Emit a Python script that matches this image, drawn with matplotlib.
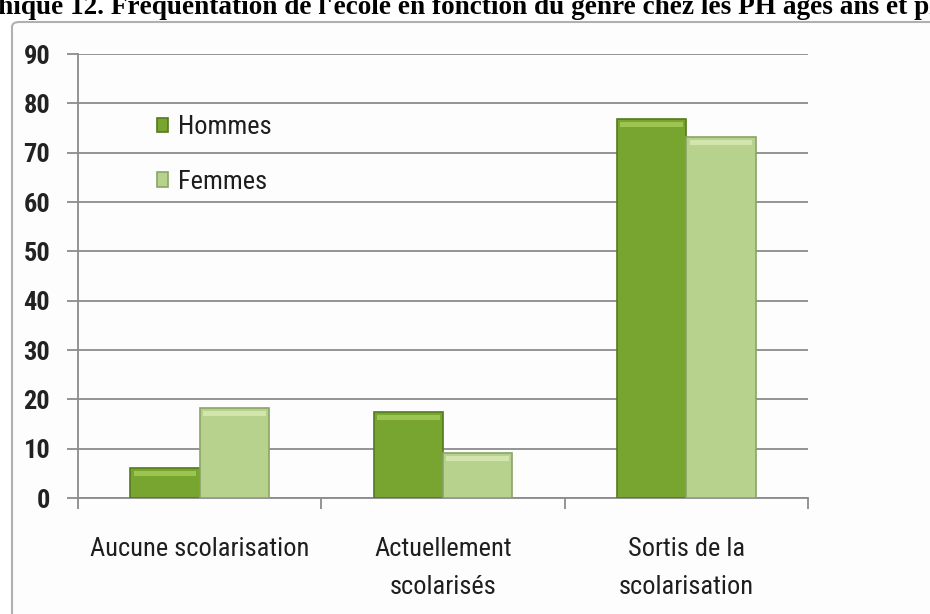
import numpy as np
import matplotlib.pyplot as plt
from matplotlib.patches import FancyBboxPatch

categories = ['Aucune scolarisation', 'Actuellement\nscolarisés', 'Sortis de la\nscolarisation']
hommes = [6.1, 17.4, 76.9]
femmes = [18.3, 9.1, 73.2]
series_names = ['Hommes', 'Femmes']
yticks = [0, 10, 20, 30, 40, 50, 60, 70, 80, 90]
title = "Graphique 12. Fréquentation de l'école en fonction du genre chez les PH âgés ans et plus"

narrow = ['Roboto Condensed', 'Liberation Sans Narrow', 'DejaVu Sans']
plt.rcParams['font.family'] = narrow
plt.rcParams['font.stretch'] = 'condensed'

fig = plt.figure(figsize=(9.3, 6.14), dpi=100)
fig.patch.set_facecolor('white')

# cadre gris du graphique (coupé à droite et en bas)
frame = FancyBboxPatch((12 / 930, -0.1), 1.2, 1.1 - 22 / 614,
                       boxstyle='round,pad=0,rounding_size=0.008',
                       transform=fig.transFigure, facecolor='#fdfdfd',
                       edgecolor='#b0b0b0', linewidth=1.5, zorder=-5)
fig.add_artist(frame)

fig.text(-0.069, 0.977, title, family=['Liberation Serif', 'DejaVu Serif'],
         fontsize=19.6, fontweight='bold', fontstretch='normal',
         ha='left', va='baseline', color='black')

ax = fig.add_axes([78 / 930, 1 - 498 / 614, 730 / 930, 444 / 614])
ax.set_facecolor('none')

x = np.arange(len(categories))
w = 0.285
c_h, e_h, hl_h = '#78a530', '#557a1c', '#a6cc5a'
c_f, e_f, hl_f = '#b7d28c', '#8aa566', '#d8ebb5'

ax.bar(x - w / 2, hommes, w, color=c_h, edgecolor=e_h, linewidth=1.2, zorder=3, label=series_names[0])
ax.bar(x + w / 2, femmes, w, color=c_f, edgecolor=e_f, linewidth=1.2, zorder=3, label=series_names[1])
# petit reflet en haut des barres
ax.bar(x - w / 2, 1.0, w * 0.9, bottom=np.array(hommes) - 1.6, color=hl_h, linewidth=0, zorder=4, alpha=0.8)
ax.bar(x + w / 2, 1.0, w * 0.9, bottom=np.array(femmes) - 1.6, color=hl_f, linewidth=0, zorder=4, alpha=0.8)

ax.set_xlim(-0.5, len(categories) - 0.5)
ax.set_ylim(0, 90)
ax.set_yticks(yticks)
ax.yaxis.grid(True, color='#8c8c8c', linewidth=1.3, zorder=1)
ax.set_axisbelow(True)

for s in ['top', 'right']:
    ax.spines[s].set_visible(False)
ax.spines['left'].set_color('#8c8c8c')
ax.spines['bottom'].set_color('#8c8c8c')
ax.spines['left'].set_linewidth(1.3)
ax.spines['bottom'].set_linewidth(1.3)

ax.tick_params(axis='y', length=8, width=1.3, color='#8c8c8c', pad=12,
               labelsize=19, labelcolor='#222222')
for lab in ax.get_yticklabels():
    lab.set_fontweight('bold')

ax.set_xticks(np.arange(len(categories) + 1) - 0.5)
ax.set_xticklabels([])
ax.set_xticks(x, minor=True)
ax.set_xticklabels(categories, minor=True, fontsize=19, color='#1e1e1e', linespacing=1.75)
ax.tick_params(axis='x', which='major', length=8, width=1.3, color='#8c8c8c', direction='out')
ax.tick_params(axis='x', which='minor', length=0, pad=28)
for lab in ax.get_xticklabels(minor=True):
    lab.set_va('top')

leg = ax.legend(loc='upper left', bbox_to_anchor=(0.075, 0.915), frameon=False,
                fontsize=19, handlelength=0.45, handleheight=0.45, handletextpad=0.35,
                labelspacing=1.15)
for t in leg.get_texts():
    t.set_color('#1e1e1e')

fig.savefig('out.png', dpi=100)
